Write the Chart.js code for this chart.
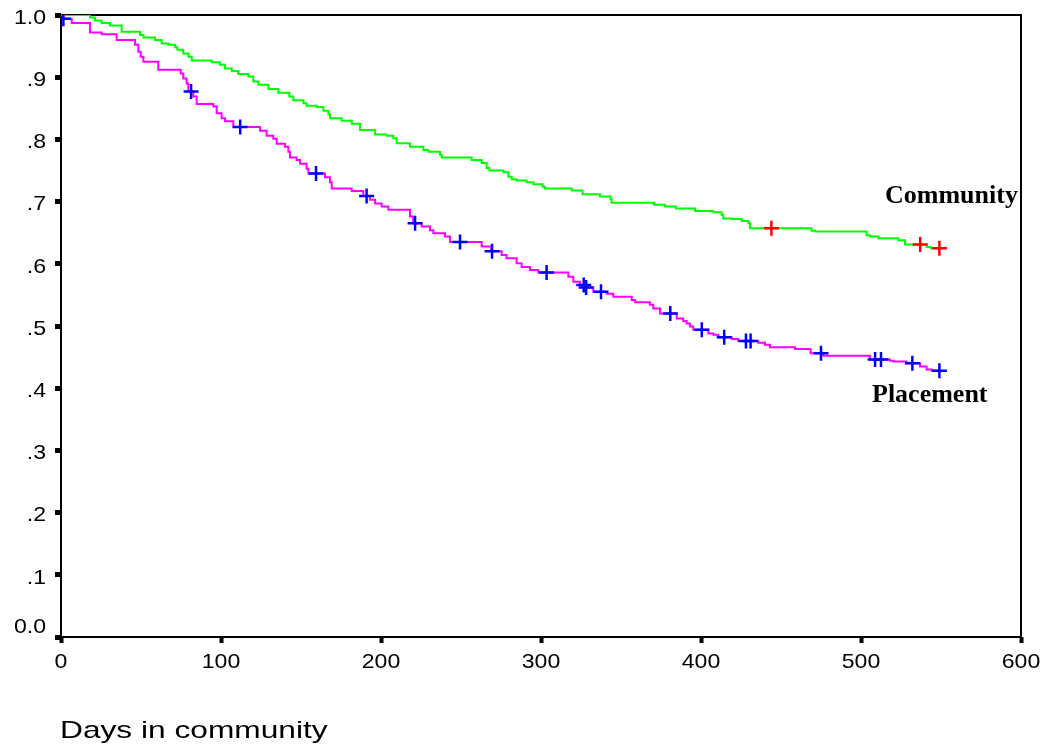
<!DOCTYPE html>
<html>
<head>
<meta charset="utf-8">
<title>Survival in community</title>
<script src="https://cdn.jsdelivr.net/npm/chart.js@4.4.1/dist/chart.umd.min.js"></script>
<style>
  html, body { margin: 0; padding: 0; background: #ffffff; }
  #wrap { width: 1047px; height: 749px; }
</style>
</head>
<body>
<div id="wrap"><canvas id="km" width="1047" height="749"></canvas></div>
<script>
// Kaplan-Meier estimates: day of each step and survival after it
const communityDays = [
  0, 18.1, 21.3, 25.4, 30.6, 37.9, 49.4, 51.5, 58.8, 62.9,
  67.1, 71.3, 72.7, 76.4, 79.6, 81.7, 94.2, 99.4, 102.5, 106.7,
  110.8, 117.1, 120.2, 123.3, 129.6, 135.8, 142.7, 145.2, 151.5, 153.5,
  159.8, 164.0, 167.1, 168.1, 175.4, 181.7, 186.9, 196.3, 203.5, 207.7,
  209.8, 218.1, 226.5, 229.6, 236.9, 237.9, 256.7, 262.9, 266.0, 267.7,
  276.5, 279.6, 281.7, 284.8, 291.0, 295.2, 301.0, 302.5, 319.2, 326.0,
  336.9, 343.5, 344.1, 370.6, 377.5, 384.3, 396.3, 407.7, 412.9, 413.9,
  419.1, 425.4, 429.6, 430.6, 469.1, 471.3, 503.5, 505.6, 510.8, 523.3,
  527.5, 541.0, 543.6, 549.0
];
const communitySurv = [
  1.000, 0.996, 0.991, 0.987, 0.983, 0.973, 0.968, 0.964, 0.960, 0.954,
  0.952, 0.948, 0.944, 0.938, 0.933, 0.927, 0.924, 0.920, 0.914, 0.910,
  0.905, 0.901, 0.893, 0.888, 0.881, 0.875, 0.869, 0.863, 0.858, 0.854,
  0.852, 0.846, 0.840, 0.834, 0.830, 0.825, 0.815, 0.808, 0.806, 0.802,
  0.794, 0.788, 0.783, 0.780, 0.775, 0.771, 0.767, 0.762, 0.754, 0.750,
  0.747, 0.740, 0.736, 0.734, 0.731, 0.728, 0.724, 0.721, 0.718, 0.712,
  0.708, 0.704, 0.698, 0.695, 0.692, 0.689, 0.685, 0.683, 0.679, 0.673,
  0.672, 0.669, 0.665, 0.657, 0.653, 0.652, 0.646, 0.644, 0.641, 0.638,
  0.631, 0.627, 0.625, 0.625
];
const communityCensorDays = [444.0, 537.0, 549.0];
const communityCensorSurv = [0.657, 0.631, 0.625];

const placementDays = [
  0, 1.0, 6.7, 18.1, 25.4, 34.8, 46.3, 48.3, 49.8, 51.5,
  60.8, 74.8, 76.4, 78.5, 79.6, 82.7, 84.8, 95.2, 97.3, 100.4,
  102.5, 107.7, 124.4, 128.5, 132.7, 134.8, 140.0, 142.1, 143.1, 147.3,
  149.4, 153.5, 154.6, 165.0, 168.1, 169.2, 181.7, 188.9, 193.1, 196.3,
  200.4, 204.6, 218.1, 220.2, 225.4, 230.6, 232.7, 240.0, 243.1, 262.9,
  269.0, 275.4, 278.5, 284.8, 287.9, 293.1, 298.3, 317.1, 320.2, 324.4,
  327.5, 332.7, 341.0, 345.2, 356.7, 358.8, 368.1, 370.2, 374.4, 384.8,
  388.9, 391.0, 393.1, 395.2, 404.6, 407.7, 410.8, 419.2, 423.3, 435.8,
  440.0, 443.1, 458.8, 468.5, 476.4, 505.6, 518.1, 520.2, 528.5, 536.9,
  541.0, 544.2, 549.0
];
const placementSurv = [
  1.000, 0.994, 0.987, 0.972, 0.969, 0.960, 0.952, 0.941, 0.933, 0.925,
  0.912, 0.906, 0.898, 0.890, 0.877, 0.869, 0.857, 0.853, 0.842, 0.834,
  0.829, 0.820, 0.814, 0.806, 0.801, 0.793, 0.788, 0.780, 0.771, 0.767,
  0.761, 0.753, 0.745, 0.739, 0.731, 0.721, 0.717, 0.709, 0.703, 0.697,
  0.692, 0.687, 0.676, 0.665, 0.660, 0.654, 0.649, 0.644, 0.635, 0.628,
  0.620, 0.614, 0.609, 0.601, 0.595, 0.590, 0.586, 0.579, 0.571, 0.566,
  0.562, 0.555, 0.552, 0.547, 0.542, 0.538, 0.534, 0.528, 0.520, 0.512,
  0.508, 0.504, 0.499, 0.494, 0.488, 0.486, 0.482, 0.479, 0.476, 0.473,
  0.470, 0.466, 0.463, 0.456, 0.452, 0.446, 0.444, 0.443, 0.440, 0.435,
  0.430, 0.428, 0.428
];
const placementCensorDays = [
  1.5, 81.3, 112.0, 159.4, 191.0, 221.3, 249.4, 269.4, 303.5, 326.7,
  328.2, 337.5, 380.8, 400.5, 414.5, 428.1, 431.0, 475.0, 508.8, 512.5,
  532.1, 549.0
];
const placementCensorSurv = [
  0.994, 0.877, 0.820, 0.745, 0.709, 0.665, 0.635, 0.620, 0.586, 0.566,
  0.562, 0.555, 0.520, 0.494, 0.482, 0.476, 0.476, 0.456, 0.446, 0.446,
  0.440, 0.428
];

const xTickLabels = ['0', '100', '200', '300', '400', '500', '600'];
const yTickLabels = ['0.0', '.1', '.2', '.3', '.4', '.5', '.6', '.7', '.8', '.9', '1.0'];
const xAxisTitle = 'Days in community';
const groupNames = ['Community', 'Placement'];

function toPoints(xs, ys) {
  return xs.map((x, i) => ({ x: x, y: ys[i] }));
}

// Axis labels, titles and the plot frame
const annotatePlugin = {
  id: 'annotate',
  beforeDatasetsDraw(chart) {
    const { ctx, chartArea: a } = chart;
    ctx.save();
    ctx.strokeStyle = '#000000';
    ctx.lineWidth = 2;
    ctx.strokeRect(a.left, a.top, a.right - a.left, a.bottom - a.top);
    ctx.restore();
  },
  afterDraw(chart) {
    const { ctx } = chart;
    const xs = chart.scales.x;
    const ys = chart.scales.y;
    const sans = '"Liberation Sans", Arial, Helvetica, sans-serif';
    const serif = '"Liberation Serif", "Times New Roman", Times, serif';

    function stretched(text, x, y, font, sx, align, baseline) {
      ctx.save();
      ctx.font = font;
      ctx.fillStyle = '#000000';
      ctx.textAlign = align;
      ctx.textBaseline = baseline;
      ctx.translate(x, y);
      ctx.scale(sx, 1);
      ctx.fillText(text, 0, 0);
      ctx.restore();
    }

    ys.ticks.forEach((t, i) => {
      const py = ys.getPixelForValue(t.value);
      const dy = i === 0 ? -10 : 3;
      stretched(yTickLabels[i], 46, py + dy, '21px ' + sans, 1.1, 'right', 'middle');
    });
    xs.ticks.forEach((t, i) => {
      const px = xs.getPixelForValue(t.value);
      stretched(xTickLabels[i], px, 662, '21px ' + sans, 1.1, 'center', 'middle');
    });

    stretched(xAxisTitle, 60, 738, '24px ' + sans, 1.32, 'left', 'alphabetic');

    stretched(groupNames[0], 885, 203, 'bold 26px ' + serif, 1.0, 'left', 'alphabetic');
    stretched(groupNames[1], 872, 402, 'bold 26px ' + serif, 1.0, 'left', 'alphabetic');
  }
};

new Chart(document.getElementById('km'), {
  type: 'line',
  data: {
    datasets: [
      {
        label: groupNames[0],
        data: toPoints(communityDays, communitySurv),
        stepped: 'before',
        borderColor: '#00ff00',
        borderWidth: 2,
        pointRadius: 0,
        fill: false,
        order: 3
      },
      {
        label: groupNames[1],
        data: toPoints(placementDays, placementSurv),
        stepped: 'before',
        borderColor: '#ff00ff',
        borderWidth: 2,
        pointRadius: 0,
        fill: false,
        order: 2
      },
      {
        label: groupNames[0] + ' censored',
        data: toPoints(communityCensorDays, communityCensorSurv),
        showLine: false,
        pointStyle: 'cross',
        pointRadius: 7.5,
        pointBorderWidth: 2.5,
        pointBorderColor: '#ff0000',
        borderColor: '#ff0000',
        order: 1
      },
      {
        label: groupNames[1] + ' censored',
        data: toPoints(placementCensorDays, placementCensorSurv),
        showLine: false,
        pointStyle: 'cross',
        pointRadius: 7.5,
        pointBorderWidth: 2.5,
        pointBorderColor: '#0000ff',
        borderColor: '#0000ff',
        order: 0
      }
    ]
  },
  options: {
    responsive: false,
    animation: false,
    devicePixelRatio: 1,
    layout: { padding: { top: 15, right: 26, left: 0, bottom: 0 } },
    plugins: {
      legend: { display: false },
      tooltip: { enabled: false },
      title: { display: false }
    },
    elements: { line: { tension: 0 } },
    scales: {
      x: {
        type: 'linear',
        min: 0,
        max: 600,
        ticks: { stepSize: 100, display: false },
        border: { display: false },
        grid: {
          drawOnChartArea: false,
          drawTicks: true,
          tickLength: 6,
          tickWidth: 4,
          tickColor: '#000000'
        },
        afterFit(scale) { scale.height = 112; }
      },
      y: {
        type: 'linear',
        min: 0,
        max: 1,
        ticks: { stepSize: 0.1, display: false },
        border: { display: false },
        grid: {
          drawOnChartArea: false,
          drawTicks: true,
          tickLength: 6,
          tickWidth: 5,
          tickColor: '#000000'
        },
        afterFit(scale) { scale.width = 61; }
      }
    }
  },
  plugins: [annotatePlugin]
});
</script>
</body>
</html>
